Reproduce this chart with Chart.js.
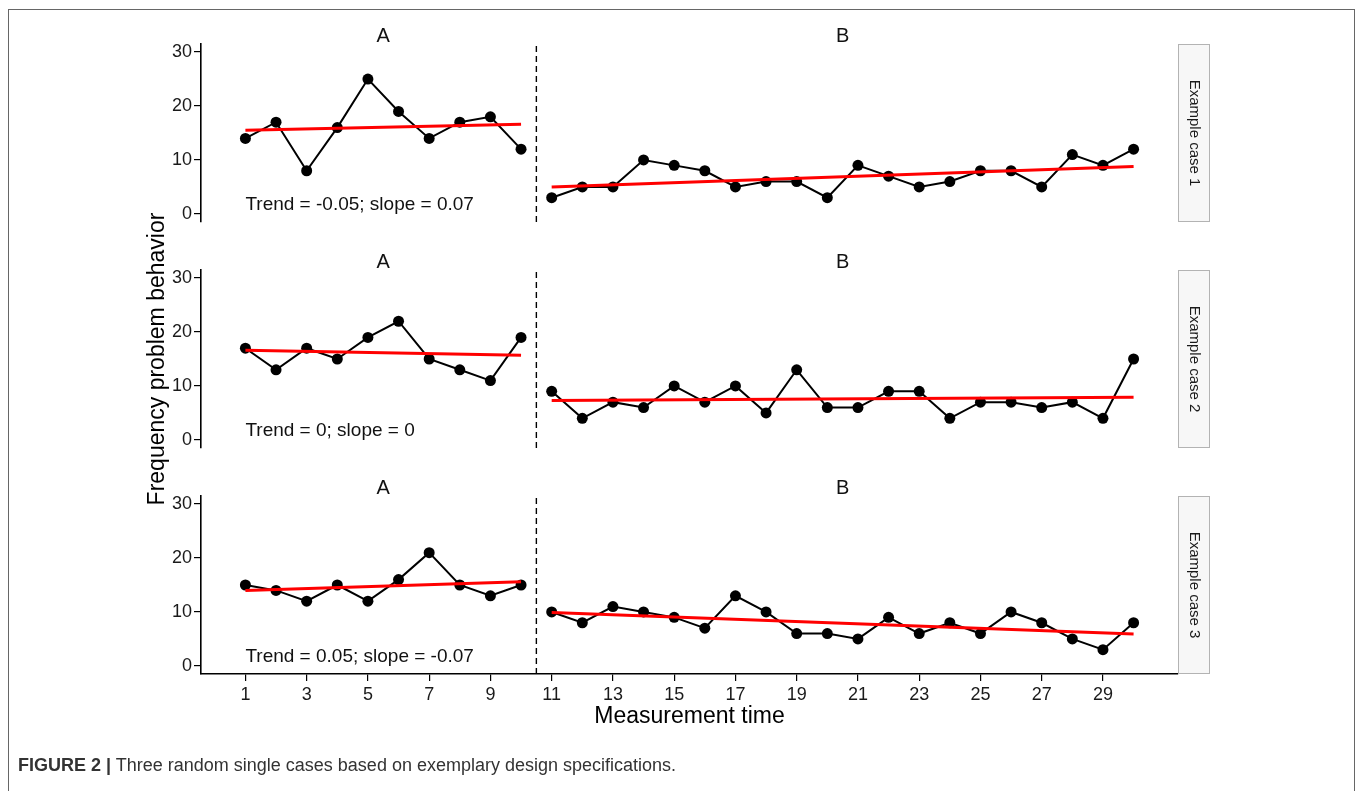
<!DOCTYPE html>
<html>
<head>
<meta charset="utf-8">
<script src="https://cdn.jsdelivr.net/npm/chart.js@4.4.1/dist/chart.umd.min.js"></script>
<style>
  html, body { margin: 0; padding: 0; background: #ffffff; }
  #wrap { position: relative; width: 1357px; height: 791px; overflow: hidden; background: #ffffff; }
  #frame { position: absolute; left: 8px; top: 9px; width: 1347px; height: 800px; border: 1px solid #666; box-sizing: border-box; }
  canvas { position: absolute; left: 0; top: 0; }
  #caption { position: absolute; left: 18px; top: 755px; font-family: "Liberation Sans", Arial, sans-serif; font-size: 18px; color: #333; white-space: nowrap; }
  #caption b { font-weight: bold; }
</style>
</head>
<body>
<div id="wrap">
  <div id="frame"></div>
  <canvas id="c1" width="1357" height="791"></canvas>
  <canvas id="c2" width="1357" height="791"></canvas>
  <canvas id="c3" width="1357" height="791"></canvas>
  <div id="caption"><b>FIGURE 2 |</b> Three random single cases based on exemplary design specifications.</div>
</div>
<script>
// Measurement occasions of the two phases
const timesA = [1, 2, 3, 4, 5, 6, 7, 8, 9, 10];
const timesB = [11, 12, 13, 14, 15, 16, 17, 18, 19, 20, 21, 22, 23, 24, 25, 26, 27, 28, 29, 30];

// Observed frequency of problem behavior per case and phase
const case1A = [14, 17, 8, 16, 25, 19, 14, 17, 18, 12];
const case1B = [3, 5, 5, 10, 9, 8, 5, 6, 6, 3, 9, 7, 5, 6, 8, 8, 5, 11, 9, 12];
const case2A = [17, 13, 17, 15, 19, 22, 15, 13, 11, 19];
const case2B = [9, 4, 7, 6, 10, 7, 10, 5, 13, 6, 6, 9, 9, 4, 7, 7, 6, 7, 4, 15];
const case3A = [15, 14, 12, 15, 12, 16, 21, 15, 13, 15];
const case3B = [10, 8, 11, 10, 9, 7, 13, 10, 6, 6, 5, 9, 6, 8, 6, 10, 8, 5, 3, 8];

// Fitted linear trend per phase: value at first and last occasion
const fit1A = [15.5, 16.6];
const fit1B = [5.0, 8.8];
const fit2A = [16.6, 15.7];
const fit2B = [7.3, 7.9];
const fit3A = [14.0, 15.6];
const fit3B = [9.9, 5.9];

// Labels
const trendLabels = ["Trend = -0.05; slope = 0.07", "Trend = 0; slope = 0", "Trend = 0.05; slope = -0.07"];
const caseLabels = ["Example case 1", "Example case 2", "Example case 3"];
const phaseLabels = ["A", "B"];
const yTicks = [0, 10, 20, 30];
const xTicks = [1, 3, 5, 7, 9, 11, 13, 15, 17, 19, 21, 23, 25, 27, 29];

const PHASE_CHANGE = 10.5;
const Y_MIN = -1.5, Y_MAX = 31.5;
const X_MIN = -0.45, X_MAX = 31.45;

const FONT = '"Liberation Sans", Arial, Helvetica, sans-serif';
const W = 1357, H = 791;
const PLOT_LEFT = 201, PLOT_RIGHT = 1178, PANEL_H = 178;
const X_AXIS_H = 60;
const panelTops = [44, 270, 496];

function pts(xs, ys) { return xs.map((x, i) => ({ x: x, y: ys[i] })); }
function ends(xs, fit) { return [{ x: xs[0], y: fit[0] }, { x: xs[xs.length - 1], y: fit[1] }]; }

// Text decorations: phase titles, trend label, facet strip, shared axis titles
const panelText = {
  id: 'panelText',
  afterDraw(chart, args, opts) {
    const ctx = chart.ctx;
    const xs = chart.scales.x, ys = chart.scales.y;
    const area = chart.chartArea;
    ctx.save();
    ctx.fillStyle = '#111';
    // phase titles
    ctx.font = '20px ' + FONT;
    ctx.textAlign = 'center';
    ctx.textBaseline = 'middle';
    ctx.fillText(phaseLabels[0], xs.getPixelForValue((timesA[0] + timesA[timesA.length - 1]) / 2), area.top - 8);
    ctx.fillText(phaseLabels[1], xs.getPixelForValue((timesB[0] + timesB[timesB.length - 1]) / 2), area.top - 8);
    // trend label
    ctx.font = '19px ' + FONT;
    ctx.textAlign = 'left';
    ctx.textBaseline = 'alphabetic';
    ctx.fillText(opts.trend, xs.getPixelForValue(timesA[0]), ys.getPixelForValue(0.75));
    // facet strip
    const sx = area.right, sw = 32;
    ctx.fillStyle = '#f7f7f7';
    ctx.fillRect(sx, area.top, sw, area.bottom - area.top);
    ctx.strokeStyle = '#b3b3b3';
    ctx.lineWidth = 1;
    ctx.strokeRect(sx + 0.5, area.top + 0.5, sw - 1, area.bottom - area.top - 1);
    ctx.fillStyle = '#1a1a1a';
    ctx.font = '15px ' + FONT;
    ctx.translate(sx + sw / 2, (area.top + area.bottom) / 2);
    ctx.rotate(Math.PI / 2);
    ctx.textAlign = 'center';
    ctx.textBaseline = 'middle';
    ctx.fillText(opts.strip, 0, 0);
    ctx.restore();

    if (opts.yTitle) {
      ctx.save();
      ctx.fillStyle = '#000';
      ctx.font = '23px ' + FONT;
      ctx.translate(158, (area.top + area.bottom) / 2);
      ctx.rotate(-Math.PI / 2);
      ctx.textAlign = 'center';
      ctx.textBaseline = 'middle';
      ctx.fillText(opts.yTitle, 0, 0);
      ctx.restore();
    }
    if (opts.xTitle) {
      ctx.save();
      ctx.fillStyle = '#000';
      ctx.font = '23px ' + FONT;
      ctx.textAlign = 'center';
      ctx.textBaseline = 'middle';
      ctx.fillText(opts.xTitle, (area.left + area.right) / 2, area.bottom + 43);
      ctx.restore();
    }
  }
};

function makePanel(canvasId, idx, dataA, dataB, fitA, fitB, showX) {
  const top = panelTops[idx];
  const bottomPad = showX ? (H - top - PANEL_H - X_AXIS_H) : (H - top - PANEL_H);
  return new Chart(document.getElementById(canvasId), {
    type: 'line',
    data: {
      datasets: [
        {
          data: [{ x: PHASE_CHANGE, y: Y_MIN }, { x: PHASE_CHANGE, y: Y_MAX }],
          borderColor: '#000', borderWidth: 1.4, borderDash: [6, 4],
          pointRadius: 0, order: 4
        },
        {
          data: pts(timesA, dataA), borderColor: '#000', backgroundColor: '#000',
          borderWidth: 2, pointRadius: 5.5, pointBorderWidth: 0, order: 3
        },
        {
          data: pts(timesB, dataB), borderColor: '#000', backgroundColor: '#000',
          borderWidth: 2, pointRadius: 5.5, pointBorderWidth: 0, order: 3
        },
        {
          data: ends(timesA, fitA), borderColor: '#ff0000', borderWidth: 3,
          pointRadius: 0, order: 1
        },
        {
          data: ends(timesB, fitB), borderColor: '#ff0000', borderWidth: 3,
          pointRadius: 0, order: 1
        }
      ]
    },
    options: {
      responsive: false,
      animation: false,
      devicePixelRatio: 1,
      events: [],
      layout: { padding: { left: 0, right: W - PLOT_RIGHT, top: top, bottom: bottomPad } },
      plugins: {
        legend: { display: false },
        tooltip: { enabled: false },
        panelText: {
          trend: trendLabels[idx],
          strip: caseLabels[idx],
          yTitle: idx === 1 ? 'Frequency problem behavior' : null,
          xTitle: showX ? 'Measurement time' : null
        }
      },
      elements: { line: { tension: 0 } },
      scales: {
        x: {
          type: 'linear', min: X_MIN, max: X_MAX, display: showX,
          afterBuildTicks: s => { s.ticks = xTicks.map(v => ({ value: v })); },
          afterFit: s => { s.height = showX ? X_AXIS_H : 0; },
          grid: { display: true, drawOnChartArea: false, drawTicks: true, tickLength: 7, color: '#000', lineWidth: 1.2 },
          border: { display: true, color: '#000', width: 1.6 },
          ticks: { color: '#1a1a1a', padding: 3, maxRotation: 0, autoSkip: false, font: { family: FONT, size: 18 } }
        },
        y: {
          type: 'linear', min: Y_MIN, max: Y_MAX,
          afterBuildTicks: s => { s.ticks = yTicks.map(v => ({ value: v })); },
          afterFit: s => { s.width = PLOT_LEFT; },
          grid: { display: true, drawOnChartArea: false, drawTicks: true, tickLength: 7, color: '#000', lineWidth: 1.2 },
          border: { display: true, color: '#000', width: 1.6 },
          ticks: { color: '#1a1a1a', padding: 2, font: { family: FONT, size: 18 } }
        }
      }
    },
    plugins: [panelText]
  });
}

makePanel('c1', 0, case1A, case1B, fit1A, fit1B, false);
makePanel('c2', 1, case2A, case2B, fit2A, fit2B, false);
makePanel('c3', 2, case3A, case3B, fit3A, fit3B, true);
</script>
</body>
</html>
